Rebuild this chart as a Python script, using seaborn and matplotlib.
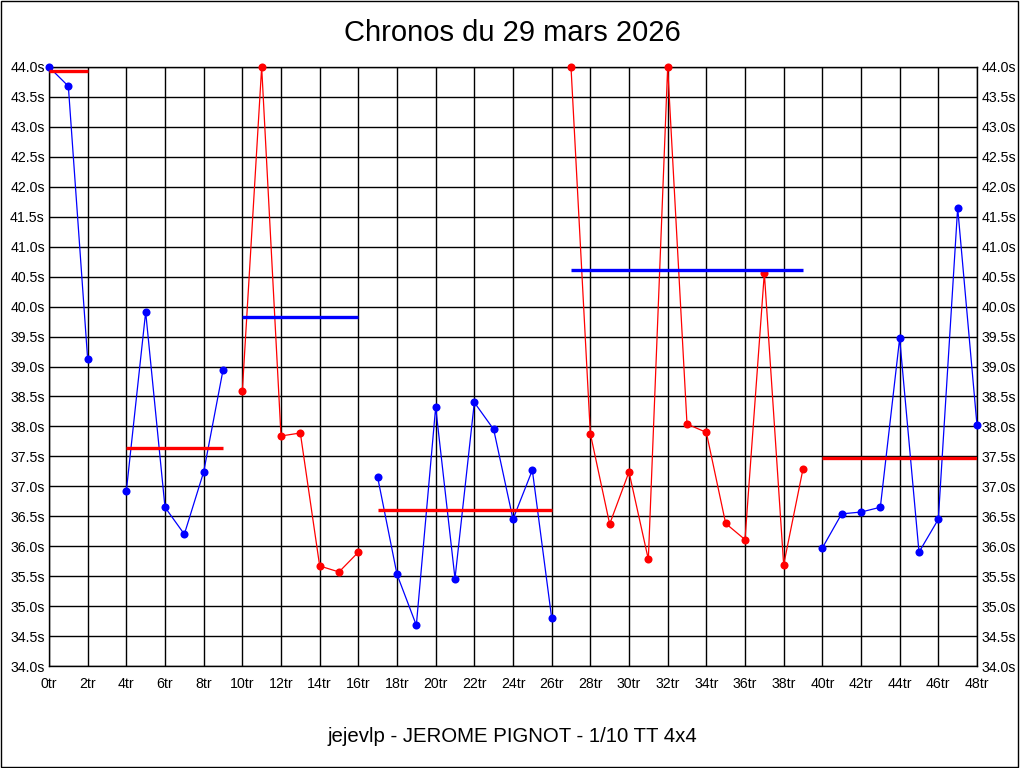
import numpy as np
import pandas as pd
import matplotlib
matplotlib.use("Agg")
import matplotlib.pyplot as plt
import seaborn as sns
from matplotlib.patches import Rectangle
from matplotlib.ticker import FuncFormatter, MultipleLocator

# Chronos par serie (valeurs > 44s sont affichees a 44s)
serie1 = [44.0, 43.68, 39.12]
serie2 = [36.92, 39.91, 36.65, 36.20, 37.24, 38.94]
serie3 = [38.59, 44.0, 37.84, 37.89, 35.67, 35.57, 35.90]
serie4 = [37.15, 35.53, 34.68, 38.32, 35.46, 38.40, 37.95, 36.45, 37.27, 34.80]
serie5 = [44.0, 37.88, 36.37, 37.24, 35.78, 44.0, 38.04, 37.90, 36.38, 36.11, 40.56, 35.69, 37.29]
serie6 = [35.97, 36.54, 36.57, 36.65, 39.47, 35.90, 36.45, 41.65, 38.02]

series = [serie1, serie2, serie3, serie4, serie5, serie6]
premier_tour = [0, 4, 10, 17, 27, 40]
moyennes = [43.93, 37.64, 39.83, 36.60, 40.61, 37.47]
couleurs = ['#0000ff', '#0000ff', '#ff0000', '#0000ff', '#ff0000', '#0000ff']
couleurs_moy = ['#ff0000', '#ff0000', '#0000ff', '#ff0000', '#0000ff', '#ff0000']

rows = []
for i, (s, t0) in enumerate(zip(series, premier_tour)):
    for k, v in enumerate(s):
        rows.append({'tour': t0 + k, 'temps': v, 'serie': i})
df = pd.DataFrame(rows)

sns.set_style('white')
plt.rcParams['font.family'] = ['Liberation Sans', 'DejaVu Sans']
plt.rcParams['text.color'] = 'black'

fig = plt.figure(figsize=(10.24, 7.68), dpi=100)
ax = fig.add_axes([49 / 1024, 1 - 666 / 768, 928 / 1024, 599 / 768])

# grille noire
ax.set_axisbelow(True)
ax.grid(True, color='black', linewidth=1, zorder=0)

sns.lineplot(data=df, x='tour', y='temps', hue='serie',
             palette=dict(enumerate(couleurs)), marker='o', markersize=5.8,
             markeredgewidth=0, linewidth=0.9, estimator=None, sort=False,
             legend=False, ax=ax, zorder=3, clip_on=False)

# moyennes par serie
for s, t0, m, c in zip(series, premier_tour, moyennes, couleurs_moy):
    ax.hlines(m, t0, t0 + len(s) - 1, colors=c, linewidth=2.4, zorder=4)

ax.set_xlim(0, 48)
ax.set_ylim(34, 44)
ax.xaxis.set_major_locator(MultipleLocator(2))
ax.yaxis.set_major_locator(MultipleLocator(0.5))
ax.xaxis.set_major_formatter(FuncFormatter(lambda v, p: f"{int(round(v))}tr"))
ax.yaxis.set_major_formatter(FuncFormatter(lambda v, p: f"{v:.1f}s"))
ax.tick_params(axis='both', length=0, labelsize=10.2, colors='black')
ax.tick_params(axis='y', labelright=True, right=False, pad=3)
ax.tick_params(axis='x', pad=8)
ax.set_xlabel('')
ax.set_ylabel('')
for sp in ax.spines.values():
    sp.set_color('black')
    sp.set_linewidth(1)

fig.text(0.5, 1 - 33 / 768, 'Chronos du 29 mars 2026', ha='center', va='center',
         fontsize=21, color='black')
fig.text(0.5, 1 - 737 / 768, 'jejevlp - JEROME PIGNOT - 1/10 TT 4x4', ha='center', va='center',
         fontsize=14.7, color='black')

fig.patches.append(Rectangle((0.5 / 1024, 1.5 / 768), 1017.5 / 1024, 766 / 768,
                             transform=fig.transFigure, fill=False,
                             edgecolor='black', linewidth=1))

fig.savefig('out.png', dpi=100, facecolor='white')
